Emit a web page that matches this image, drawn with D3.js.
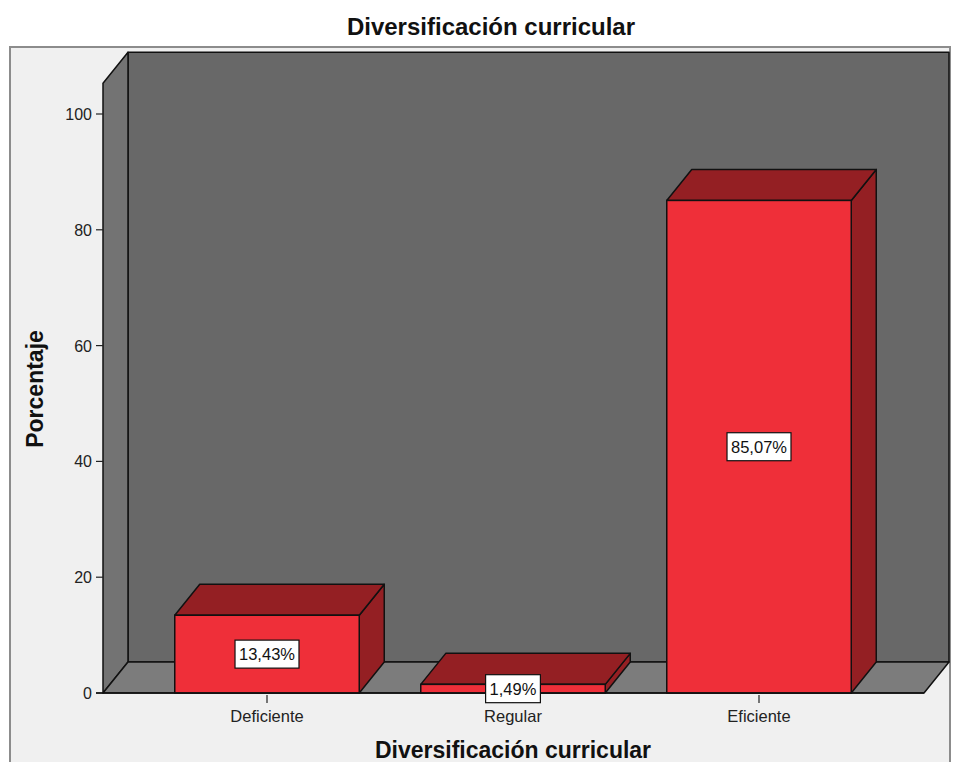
<!DOCTYPE html>
<html>
<head>
<meta charset="utf-8">
<script src="https://cdn.jsdelivr.net/npm/d3@7"></script>
<style>
  html, body { margin: 0; padding: 0; background: #ffffff; }
  svg { display: block; font-family: "Liberation Sans", Arial, sans-serif; }
</style>
</head>
<body>
<svg id="chart" width="957" height="762"></svg>
<script>
// Data
const categories = ["Deficiente", "Regular", "Eficiente"];
const values = [13.43, 1.49, 85.07];
const valueLabels = ["13,43%", "1,49%", "85,07%"];
const yTicks = [0, 20, 40, 60, 80, 100];

const chartTitle = "Diversificación curricular";
const xTitle = "Diversificación curricular";
const yTitle = "Porcentaje";

const svg = d3.select("#chart");

// Layout
const floorY = 693, topY = 114;
const depthX = 25, depthY = 31;
const leftX = 103, rightX = 924;

const y = d3.scaleLinear().domain([0, 100]).range([floorY, topY]);
const x = d3.scaleBand()
  .domain(categories)
  .range([144, 882])
  .paddingInner(0.25)
  .paddingOuter(0.125);

const wallTop = y(105.3);

// Colours
const bgPanel = "#f0f0f0";
const backWall = "#686868";
const sideWall = "#737373";
const floorCol = "#7c7c7c";
const barFront = "#ef2f39";
const barDark = "#941f23";
const edge = "#111111";

// Outer panel
svg.append("rect").attr("x", 0).attr("y", 0).attr("width", 957).attr("height", 762).attr("fill", "#ffffff");
svg.append("rect")
  .attr("x", 10).attr("y", 47).attr("width", 940).attr("height", 730)
  .attr("fill", bgPanel).attr("stroke", "#8c8c8c").attr("stroke-width", 2);

// Title
svg.append("text")
  .attr("x", 491).attr("y", 35)
  .attr("text-anchor", "middle")
  .attr("font-size", 24).attr("font-weight", "bold").attr("fill", "#111")
  .text(chartTitle);

const poly = pts => pts.map(p => p.join(",")).join(" ");

// Back wall
svg.append("polygon")
  .attr("points", poly([[leftX + depthX, wallTop - depthY], [rightX + depthX, wallTop - depthY],
                        [rightX + depthX, floorY - depthY], [leftX + depthX, floorY - depthY]]))
  .attr("fill", backWall).attr("stroke", edge).attr("stroke-width", 1.5).attr("stroke-linejoin", "round");

// Side wall
svg.append("polygon")
  .attr("points", poly([[leftX, wallTop], [leftX + depthX, wallTop - depthY],
                        [leftX + depthX, floorY - depthY], [leftX, floorY]]))
  .attr("fill", sideWall).attr("stroke", edge).attr("stroke-width", 1.5).attr("stroke-linejoin", "round");

// Floor
svg.append("polygon")
  .attr("points", poly([[leftX, floorY], [leftX + depthX, floorY - depthY],
                        [rightX + depthX, floorY - depthY], [rightX, floorY]]))
  .attr("fill", floorCol).attr("stroke", edge).attr("stroke-width", 1.5).attr("stroke-linejoin", "round");

// Y axis ticks and labels
const yAxisG = svg.append("g");
yTicks.forEach(t => {
  yAxisG.append("line")
    .attr("x1", leftX - 7).attr("x2", leftX)
    .attr("y1", y(t)).attr("y2", y(t))
    .attr("stroke", "#222").attr("stroke-width", 1.2);
  yAxisG.append("text")
    .attr("x", leftX - 11).attr("y", y(t) + 6)
    .attr("text-anchor", "end").attr("font-size", 16).attr("fill", "#222")
    .text(t);
});

// Bars (right face, top, front)
const bars = svg.append("g");
categories.forEach((c, i) => {
  const x0 = x(c), x1 = x(c) + x.bandwidth();
  const yv = y(values[i]);
  const g = bars.append("g");
  g.append("polygon")
    .attr("points", poly([[x1, yv], [x1 + depthX, yv - depthY], [x1 + depthX, floorY - depthY], [x1, floorY]]))
    .attr("fill", barDark).attr("stroke", edge).attr("stroke-width", 1.5).attr("stroke-linejoin", "round");
  g.append("polygon")
    .attr("points", poly([[x0, yv], [x0 + depthX, yv - depthY], [x1 + depthX, yv - depthY], [x1, yv]]))
    .attr("fill", barDark).attr("stroke", edge).attr("stroke-width", 1.5).attr("stroke-linejoin", "round");
  g.append("rect")
    .attr("x", x0).attr("y", yv).attr("width", x1 - x0).attr("height", floorY - yv)
    .attr("fill", barFront).attr("stroke", edge).attr("stroke-width", 1.5);
});

// X axis baseline, ticks and category labels
svg.append("line")
  .attr("x1", leftX - 7).attr("x2", rightX).attr("y1", floorY).attr("y2", floorY)
  .attr("stroke", edge).attr("stroke-width", 1.5);
categories.forEach(c => {
  const cx = x(c) + x.bandwidth() / 2;
  svg.append("line")
    .attr("x1", cx).attr("x2", cx).attr("y1", floorY + 2).attr("y2", floorY + 10)
    .attr("stroke", "#222").attr("stroke-width", 1.2);
  svg.append("text")
    .attr("x", cx).attr("y", 722)
    .attr("text-anchor", "middle").attr("font-size", 16.5).attr("fill", "#222")
    .text(c);
});

// Value labels in boxes
const labels = svg.append("g");
categories.forEach((c, i) => {
  const cx = x(c) + x.bandwidth() / 2;
  const cy = y(values[i] / 2);
  const g = labels.append("g");
  const r = g.append("rect");
  const t = g.append("text")
    .attr("x", cx).attr("y", cy + 6)
    .attr("text-anchor", "middle").attr("font-size", 16.5).attr("fill", "#111")
    .text(valueLabels[i]);
  const w = t.node().getComputedTextLength() + 8;
  r.attr("x", cx - w / 2).attr("y", cy - 14).attr("width", w).attr("height", 28)
    .attr("fill", "#ffffff").attr("stroke", "#111").attr("stroke-width", 1.2);
});

// Axis titles
svg.append("text")
  .attr("x", 513).attr("y", 758)
  .attr("text-anchor", "middle")
  .attr("font-size", 23).attr("font-weight", "bold").attr("fill", "#111")
  .text(xTitle);

svg.append("text")
  .attr("transform", "translate(43,389) rotate(-90)")
  .attr("text-anchor", "middle")
  .attr("font-size", 23).attr("font-weight", "bold").attr("fill", "#111")
  .text(yTitle);
</script>
</body>
</html>
